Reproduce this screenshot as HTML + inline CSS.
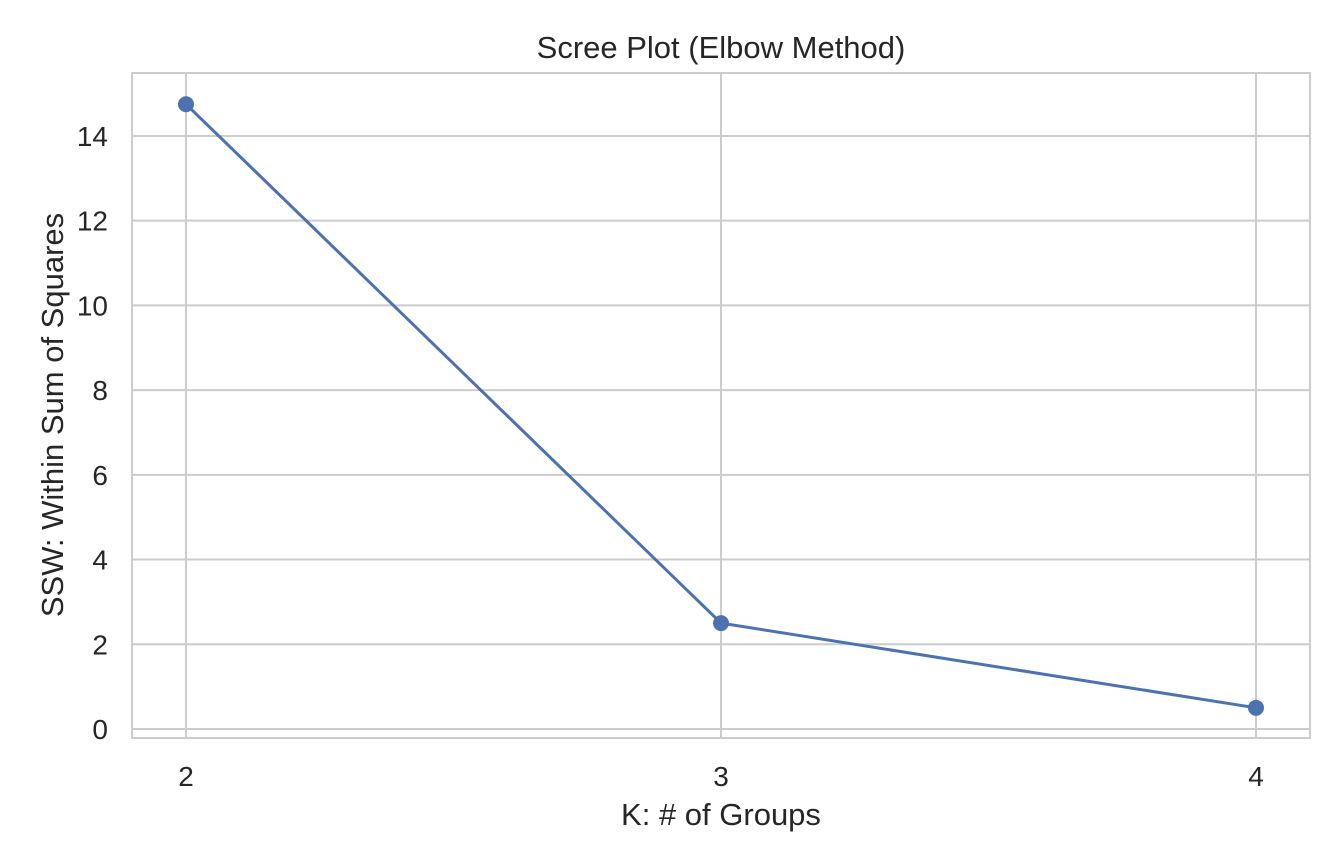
<!DOCTYPE html>
<html><head><meta charset="utf-8"><style>
body{margin:0;background:#fff;}
svg{display:block;font-family:"Liberation Sans",sans-serif;}
</style></head><body>
<svg id="chart" width="1344" height="864">
<rect x="132" y="73" width="1178" height="665" fill="#fff" stroke="#cccccc" stroke-width="2"/>
<g id="grid"></g>
<g id="marks"></g>
<text x="721" y="58" text-anchor="middle" font-size="31" fill="#262626">Scree Plot (Elbow Method)</text>
<text x="721" y="825" text-anchor="middle" font-size="31" fill="#262626">K: # of Groups</text>
<text transform="translate(63,415) rotate(-90)" text-anchor="middle" font-size="31" fill="#262626">SSW: Within Sum of Squares</text>
</svg>
<script>
const categories = [2, 3, 4];
const sswValues = [14.75, 2.5, 0.5];
const yTicks = [0, 2, 4, 6, 8, 10, 12, 14];
const xTicks = [2, 3, 4];
const NS = "http://www.w3.org/2000/svg";
function xs(v){ return 186 + (v - 2) * 535; }
function ys(v){ return 729 - v * 42.36; }
const grid = document.getElementById('grid');
const marks = document.getElementById('marks');
function mk(tag, attrs, parent){ const e = document.createElementNS(NS, tag); for (const k in attrs) e.setAttribute(k, attrs[k]); parent.appendChild(e); return e; }
yTicks.forEach(t => {
  const l = mk('line', {x1:133, x2:1309, y1:ys(t), y2:ys(t), stroke:'#cccccc', 'stroke-width':2}, grid);
  
  
  const tx = mk('text', {x:108, y:ys(t)+10, 'text-anchor':'end', 'font-size':28, fill:'#262626'}, grid);
  tx.textContent = t;
  
  
});
xTicks.forEach(t => {
  const l = mk('line', {x1:xs(t), x2:xs(t), y1:74, y2:737, stroke:'#cccccc', 'stroke-width':2}, grid);
  
  
  const tx = mk('text', {x:xs(t), y:786, 'text-anchor':'middle', 'font-size':28, fill:'#262626'}, grid);
  tx.textContent = t;
  
  
});
const pts = categories.map((c, i) => xs(c) + ',' + ys(sswValues[i])).join(' ');
const line = mk('polyline', {points:pts, fill:'none', stroke:'#4c72b0', 'stroke-width':3}, marks);


categories.forEach((c, i) => {
  const p = mk('circle', {cx:xs(c), cy:ys(sswValues[i]), r:8, fill:'#4c72b0'}, marks);
  
  
});
</script>
</body></html>
